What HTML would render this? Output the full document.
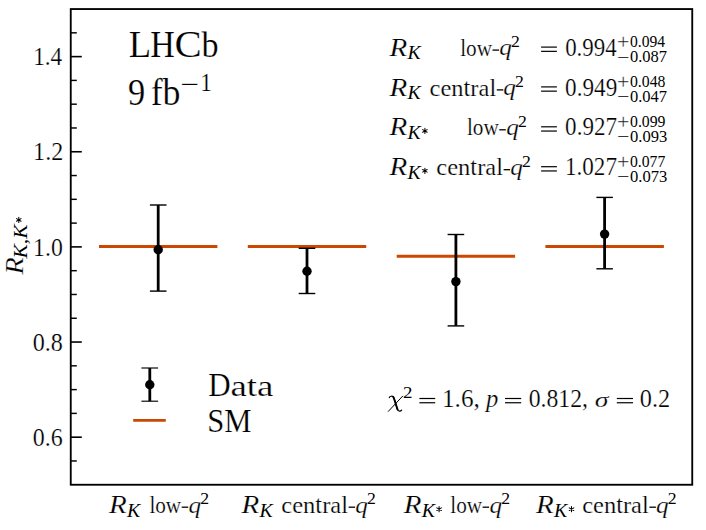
<!DOCTYPE html>
<html><head><meta charset="utf-8"><title>LHCb R_K</title>
<style>html,body{margin:0;padding:0;background:#fff}svg{display:block}</style></head>
<body>
<svg width="706" height="530" viewBox="0 0 706 530">
<rect width="706" height="530" fill="#fff"/>
<line x1="99.0" x2="217.4" y1="246.55" y2="246.55" stroke="#cc4700" stroke-width="2.9"/>
<line x1="247.8" x2="366.2" y1="246.55" y2="246.55" stroke="#cc4700" stroke-width="2.9"/>
<line x1="396.7" x2="515.1" y1="256.3" y2="256.3" stroke="#cc4700" stroke-width="2.9"/>
<line x1="545.4" x2="663.9" y1="246.55" y2="246.55" stroke="#cc4700" stroke-width="2.9"/>
<line x1="158.2" x2="158.2" y1="205.0" y2="291.1" stroke="#000" stroke-width="2.8"/>
<line x1="149.9" x2="166.5" y1="205.0" y2="205.0" stroke="#000" stroke-width="1.4"/>
<line x1="149.9" x2="166.5" y1="291.1" y2="291.1" stroke="#000" stroke-width="1.4"/>
<circle cx="158.2" cy="249.8" r="4.7" fill="#000"/>
<line x1="307.0" x2="307.0" y1="248.3" y2="293.5" stroke="#000" stroke-width="2.8"/>
<line x1="298.7" x2="315.3" y1="248.3" y2="248.3" stroke="#000" stroke-width="1.4"/>
<line x1="298.7" x2="315.3" y1="293.5" y2="293.5" stroke="#000" stroke-width="1.4"/>
<circle cx="307.0" cy="271.2" r="4.7" fill="#000"/>
<line x1="455.9" x2="455.9" y1="234.5" y2="325.9" stroke="#000" stroke-width="2.8"/>
<line x1="447.6" x2="464.2" y1="234.5" y2="234.5" stroke="#000" stroke-width="1.4"/>
<line x1="447.6" x2="464.2" y1="325.9" y2="325.9" stroke="#000" stroke-width="1.4"/>
<circle cx="455.9" cy="281.6" r="4.7" fill="#000"/>
<line x1="604.6" x2="604.6" y1="197.4" y2="268.8" stroke="#000" stroke-width="2.8"/>
<line x1="596.4" x2="612.9" y1="197.4" y2="197.4" stroke="#000" stroke-width="1.4"/>
<line x1="596.4" x2="612.9" y1="268.8" y2="268.8" stroke="#000" stroke-width="1.4"/>
<circle cx="604.6" cy="234.1" r="4.7" fill="#000"/>
<line x1="149.8" x2="149.8" y1="368.0" y2="401.2" stroke="#000" stroke-width="2.8"/>
<line x1="141.4" x2="158.1" y1="368.0" y2="368.0" stroke="#000" stroke-width="1.15"/>
<line x1="141.4" x2="158.1" y1="401.2" y2="401.2" stroke="#000" stroke-width="1.15"/>
<circle cx="149.8" cy="384.8" r="4.7" fill="#000"/>
<line x1="133.2" x2="165.8" y1="420.4" y2="420.4" stroke="#cc4700" stroke-width="2.9"/>
<line x1="70.8" x2="76.8" y1="460.96" y2="460.96" stroke="#000" stroke-width="1.45"/>
<line x1="70.8" x2="81.8" y1="437.18" y2="437.18" stroke="#000" stroke-width="1.6"/>
<line x1="70.8" x2="76.8" y1="413.39" y2="413.39" stroke="#000" stroke-width="1.45"/>
<line x1="70.8" x2="76.8" y1="389.61" y2="389.61" stroke="#000" stroke-width="1.45"/>
<line x1="70.8" x2="76.8" y1="365.82" y2="365.82" stroke="#000" stroke-width="1.45"/>
<line x1="70.8" x2="81.8" y1="342.04" y2="342.04" stroke="#000" stroke-width="1.6"/>
<line x1="70.8" x2="76.8" y1="318.25" y2="318.25" stroke="#000" stroke-width="1.45"/>
<line x1="70.8" x2="76.8" y1="294.47" y2="294.47" stroke="#000" stroke-width="1.45"/>
<line x1="70.8" x2="76.8" y1="270.69" y2="270.69" stroke="#000" stroke-width="1.45"/>
<line x1="70.8" x2="81.8" y1="246.90" y2="246.90" stroke="#000" stroke-width="1.6"/>
<line x1="70.8" x2="76.8" y1="223.11" y2="223.11" stroke="#000" stroke-width="1.45"/>
<line x1="70.8" x2="76.8" y1="199.33" y2="199.33" stroke="#000" stroke-width="1.45"/>
<line x1="70.8" x2="76.8" y1="175.55" y2="175.55" stroke="#000" stroke-width="1.45"/>
<line x1="70.8" x2="81.8" y1="151.76" y2="151.76" stroke="#000" stroke-width="1.6"/>
<line x1="70.8" x2="76.8" y1="127.97" y2="127.97" stroke="#000" stroke-width="1.45"/>
<line x1="70.8" x2="76.8" y1="104.19" y2="104.19" stroke="#000" stroke-width="1.45"/>
<line x1="70.8" x2="76.8" y1="80.40" y2="80.40" stroke="#000" stroke-width="1.45"/>
<line x1="70.8" x2="81.8" y1="56.62" y2="56.62" stroke="#000" stroke-width="1.6"/>
<line x1="70.8" x2="76.8" y1="32.83" y2="32.83" stroke="#000" stroke-width="1.45"/>
<rect x="70.75" y="9.05" width="621.5" height="475.7" fill="none" stroke="#000" stroke-width="1.85"/>
<g font-family="'Liberation Serif', serif" fill="#000" stroke="#fff" stroke-width="0.22">
<text x="32.69" y="446.18" font-size="26" textLength="29.92" lengthAdjust="spacingAndGlyphs">0.6</text>
<text x="32.68" y="351.04" font-size="26" textLength="30.14" lengthAdjust="spacingAndGlyphs">0.8</text>
<text x="33.11" y="255.90" font-size="26" textLength="29.69" lengthAdjust="spacingAndGlyphs">1.0</text>
<text x="33.08" y="160.16" font-size="26" textLength="30.15" lengthAdjust="spacingAndGlyphs">1.2</text>
<text x="33.15" y="65.02" font-size="26" textLength="29.11" lengthAdjust="spacingAndGlyphs">1.4</text>
<g transform="translate(22.7,274.9) rotate(-90)">
<text x="0.45" y="0.00" font-size="25.5" font-style="italic" textLength="17.22" lengthAdjust="spacingAndGlyphs">R</text>
<text x="16.45" y="4.50" font-size="19" font-style="italic" stroke="none" textLength="34.03" lengthAdjust="spacingAndGlyphs">K,K</text>
<path d="M52.40 -3.90L57.60 -3.90M53.70 -6.15L56.30 -1.65M56.30 -6.15L53.70 -1.65" stroke="#000" stroke-width="1.05" stroke-linecap="round" fill="none"/>
</g>
<text x="128.65" y="57.20" font-size="38.7" textLength="22.35" lengthAdjust="spacingAndGlyphs">L</text>
<text x="150.22" y="57.20" font-size="38.7" textLength="24.58" lengthAdjust="spacingAndGlyphs">H</text>
<text x="174.53" y="57.20" font-size="38.7" textLength="27.23" lengthAdjust="spacingAndGlyphs">C</text>
<text x="201.50" y="57.20" font-size="36.2" textLength="17.10" lengthAdjust="spacingAndGlyphs">b</text>
<text x="127.89" y="105.00" font-size="37" textLength="17.22" lengthAdjust="spacingAndGlyphs">9</text>
<text x="150.70" y="104.60" font-size="37.5" textLength="29.87" lengthAdjust="spacingAndGlyphs">fb</text>
<text x="180.53" y="92.80" font-size="26" textLength="18.91" lengthAdjust="spacingAndGlyphs">−</text>
<text x="200.15" y="91.00" font-size="25.5" textLength="11.65" lengthAdjust="spacingAndGlyphs">1</text>
<text x="208.20" y="395.60" font-size="33" textLength="22.44" lengthAdjust="spacingAndGlyphs">D</text>
<text x="230.40" y="395.60" font-size="30" textLength="43.00" lengthAdjust="spacingAndGlyphs">ata</text>
<text x="207.35" y="432.00" font-size="34" textLength="44.24" lengthAdjust="spacingAndGlyphs">SM</text>
<text x="389.46" y="55.70" font-size="26" font-style="italic" textLength="17.73" lengthAdjust="spacingAndGlyphs">R</text>
<text x="407.53" y="59.25" font-size="17.8" font-style="italic" stroke="none" textLength="13.22" lengthAdjust="spacingAndGlyphs">K</text>
<text x="460.18" y="55.70" font-size="26" textLength="5.89" lengthAdjust="spacingAndGlyphs">l</text>
<text x="466.07" y="55.70" font-size="24" textLength="25.92" lengthAdjust="spacingAndGlyphs">ow</text>
<line x1="492.50" x2="499.00" y1="50.10" y2="50.10" stroke="#000" stroke-width="1.3"/>
<text x="499.36" y="54.90" font-size="24" font-style="italic" textLength="12.63" lengthAdjust="spacingAndGlyphs">q</text>
<text x="511.12" y="46.90" font-size="16.5" stroke="none" textLength="8.86" lengthAdjust="spacingAndGlyphs">2</text>
<line x1="541.10" x2="556.90" y1="47.10" y2="47.10" stroke="#000" stroke-width="1.2"/>
<line x1="541.10" x2="556.90" y1="51.35" y2="51.35" stroke="#000" stroke-width="1.2"/>
<text x="565.13" y="55.70" font-size="25" textLength="51.53" lengthAdjust="spacingAndGlyphs">0.994</text>
<text x="617.11" y="48.90" font-size="21" textLength="12.36" lengthAdjust="spacingAndGlyphs">+</text>
<text x="630.01" y="46.90" font-size="17.3" stroke="none" textLength="35.04" lengthAdjust="spacingAndGlyphs">0.094</text>
<text x="617.11" y="62.60" font-size="17" stroke="none" textLength="12.36" lengthAdjust="spacingAndGlyphs">−</text>
<text x="629.97" y="62.10" font-size="17.3" stroke="none" textLength="37.10" lengthAdjust="spacingAndGlyphs">0.087</text>
<text x="389.46" y="95.50" font-size="26" font-style="italic" textLength="17.73" lengthAdjust="spacingAndGlyphs">R</text>
<text x="407.53" y="99.05" font-size="17.8" font-style="italic" stroke="none" textLength="13.22" lengthAdjust="spacingAndGlyphs">K</text>
<text x="429.57" y="95.50" font-size="24" textLength="33.99" lengthAdjust="spacingAndGlyphs">cen</text>
<text x="463.55" y="95.50" font-size="25" textLength="6.80" lengthAdjust="spacingAndGlyphs">t</text>
<text x="470.36" y="95.50" font-size="24" textLength="19.03" lengthAdjust="spacingAndGlyphs">ra</text>
<text x="489.39" y="95.50" font-size="26" textLength="6.80" lengthAdjust="spacingAndGlyphs">l</text>
<line x1="496.80" x2="503.30" y1="89.90" y2="89.90" stroke="#000" stroke-width="1.3"/>
<text x="503.36" y="94.70" font-size="24" font-style="italic" textLength="12.63" lengthAdjust="spacingAndGlyphs">q</text>
<text x="515.12" y="86.70" font-size="16.5" stroke="none" textLength="8.86" lengthAdjust="spacingAndGlyphs">2</text>
<line x1="541.10" x2="556.90" y1="86.90" y2="86.90" stroke="#000" stroke-width="1.2"/>
<line x1="541.10" x2="556.90" y1="91.15" y2="91.15" stroke="#000" stroke-width="1.2"/>
<text x="565.12" y="95.50" font-size="25" textLength="52.13" lengthAdjust="spacingAndGlyphs">0.949</text>
<text x="617.11" y="88.70" font-size="21" textLength="12.36" lengthAdjust="spacingAndGlyphs">+</text>
<text x="630.00" y="86.70" font-size="17.3" stroke="none" textLength="35.40" lengthAdjust="spacingAndGlyphs">0.048</text>
<text x="617.11" y="102.40" font-size="17" stroke="none" textLength="12.36" lengthAdjust="spacingAndGlyphs">−</text>
<text x="629.97" y="101.90" font-size="17.3" stroke="none" textLength="37.10" lengthAdjust="spacingAndGlyphs">0.047</text>
<text x="389.46" y="135.40" font-size="26" font-style="italic" textLength="17.73" lengthAdjust="spacingAndGlyphs">R</text>
<text x="407.53" y="138.95" font-size="17.8" font-style="italic" stroke="none" textLength="13.22" lengthAdjust="spacingAndGlyphs">K</text>
<path d="M424.90 128.30L424.90 133.50M422.65 129.60L427.15 132.20M427.15 129.60L422.65 132.20" stroke="#000" stroke-width="1.05" stroke-linecap="round" fill="none"/>
<text x="466.98" y="135.40" font-size="26" textLength="5.89" lengthAdjust="spacingAndGlyphs">l</text>
<text x="472.87" y="135.40" font-size="24" textLength="25.92" lengthAdjust="spacingAndGlyphs">ow</text>
<line x1="499.30" x2="505.80" y1="129.80" y2="129.80" stroke="#000" stroke-width="1.3"/>
<text x="506.16" y="134.60" font-size="24" font-style="italic" textLength="12.63" lengthAdjust="spacingAndGlyphs">q</text>
<text x="517.92" y="126.60" font-size="16.5" stroke="none" textLength="8.86" lengthAdjust="spacingAndGlyphs">2</text>
<line x1="541.10" x2="556.90" y1="126.80" y2="126.80" stroke="#000" stroke-width="1.2"/>
<line x1="541.10" x2="556.90" y1="131.05" y2="131.05" stroke="#000" stroke-width="1.2"/>
<text x="565.12" y="135.40" font-size="25" textLength="51.84" lengthAdjust="spacingAndGlyphs">0.927</text>
<text x="617.11" y="128.60" font-size="21" textLength="12.36" lengthAdjust="spacingAndGlyphs">+</text>
<text x="630.00" y="126.60" font-size="17.3" stroke="none" textLength="35.45" lengthAdjust="spacingAndGlyphs">0.099</text>
<text x="617.11" y="142.30" font-size="17" stroke="none" textLength="12.36" lengthAdjust="spacingAndGlyphs">−</text>
<text x="629.97" y="141.80" font-size="17.3" stroke="none" textLength="37.28" lengthAdjust="spacingAndGlyphs">0.093</text>
<text x="389.46" y="175.30" font-size="26" font-style="italic" textLength="17.73" lengthAdjust="spacingAndGlyphs">R</text>
<text x="407.53" y="178.85" font-size="17.8" font-style="italic" stroke="none" textLength="13.22" lengthAdjust="spacingAndGlyphs">K</text>
<path d="M424.90 168.20L424.90 173.40M422.65 169.50L427.15 172.10M427.15 169.50L422.65 172.10" stroke="#000" stroke-width="1.05" stroke-linecap="round" fill="none"/>
<text x="436.37" y="175.30" font-size="24" textLength="33.99" lengthAdjust="spacingAndGlyphs">cen</text>
<text x="470.35" y="175.30" font-size="25" textLength="6.80" lengthAdjust="spacingAndGlyphs">t</text>
<text x="477.16" y="175.30" font-size="24" textLength="19.03" lengthAdjust="spacingAndGlyphs">ra</text>
<text x="496.19" y="175.30" font-size="26" textLength="6.80" lengthAdjust="spacingAndGlyphs">l</text>
<line x1="503.60" x2="510.10" y1="169.70" y2="169.70" stroke="#000" stroke-width="1.3"/>
<text x="510.16" y="174.50" font-size="24" font-style="italic" textLength="12.63" lengthAdjust="spacingAndGlyphs">q</text>
<text x="521.92" y="166.50" font-size="16.5" stroke="none" textLength="8.86" lengthAdjust="spacingAndGlyphs">2</text>
<line x1="541.10" x2="556.90" y1="166.70" y2="166.70" stroke="#000" stroke-width="1.2"/>
<line x1="541.10" x2="556.90" y1="170.95" y2="170.95" stroke="#000" stroke-width="1.2"/>
<text x="564.97" y="175.30" font-size="25" textLength="52.00" lengthAdjust="spacingAndGlyphs">1.027</text>
<text x="617.11" y="168.50" font-size="21" textLength="12.36" lengthAdjust="spacingAndGlyphs">+</text>
<text x="630.00" y="166.50" font-size="17.3" stroke="none" textLength="35.25" lengthAdjust="spacingAndGlyphs">0.077</text>
<text x="617.11" y="182.20" font-size="17" stroke="none" textLength="12.36" lengthAdjust="spacingAndGlyphs">−</text>
<text x="629.97" y="181.70" font-size="17.3" stroke="none" textLength="37.28" lengthAdjust="spacingAndGlyphs">0.073</text>
<g fill="none" stroke="#000" stroke-linecap="round"><path d="M389.3 397.6C389.9 396.2 392.3 395.5 393.5 397.2C394.6 399 396.4 406.5 397.5 409.4C398.3 411.4 400.6 411.6 401.6 410.1" stroke-width="1.2"/><path d="M393.3 397C394.5 399 396.4 406.5 397.6 409.6" stroke-width="1.9"/><path d="M402.6 396.2L388.3 411.4" stroke-width="1"/></g>
<text x="402.97" y="398.00" font-size="17.2" stroke="none" textLength="9.48" lengthAdjust="spacingAndGlyphs">2</text>
<line x1="419.40" x2="435.20" y1="398.50" y2="398.50" stroke="#000" stroke-width="1.2"/>
<line x1="419.40" x2="435.20" y1="402.75" y2="402.75" stroke="#000" stroke-width="1.2"/>
<text x="441.99" y="407.10" font-size="25" textLength="37.80" lengthAdjust="spacingAndGlyphs">1.6,</text>
<text x="486.04" y="406.70" font-size="25" font-style="italic" textLength="12.30" lengthAdjust="spacingAndGlyphs">p</text>
<line x1="505.00" x2="521.20" y1="398.50" y2="398.50" stroke="#000" stroke-width="1.2"/>
<line x1="505.00" x2="521.20" y1="402.75" y2="402.75" stroke="#000" stroke-width="1.2"/>
<text x="528.70" y="407.10" font-size="25" textLength="59.30" lengthAdjust="spacingAndGlyphs">0.812,</text>
<text x="594.77" y="407.10" font-size="22" font-style="italic" textLength="13.75" lengthAdjust="spacingAndGlyphs">σ</text>
<line x1="616.80" x2="633.00" y1="398.50" y2="398.50" stroke="#000" stroke-width="1.2"/>
<line x1="616.80" x2="633.00" y1="402.75" y2="402.75" stroke="#000" stroke-width="1.2"/>
<text x="639.77" y="407.10" font-size="25" textLength="30.37" lengthAdjust="spacingAndGlyphs">0.2</text>
<text x="109.06" y="512.80" font-size="26" font-style="italic" textLength="17.73" lengthAdjust="spacingAndGlyphs">R</text>
<text x="127.13" y="517.20" font-size="17.8" font-style="italic" stroke="none" textLength="13.22" lengthAdjust="spacingAndGlyphs">K</text>
<text x="149.38" y="512.80" font-size="26" textLength="5.89" lengthAdjust="spacingAndGlyphs">l</text>
<text x="155.27" y="512.80" font-size="24" textLength="25.92" lengthAdjust="spacingAndGlyphs">ow</text>
<line x1="181.70" x2="188.20" y1="507.20" y2="507.20" stroke="#000" stroke-width="1.3"/>
<text x="188.56" y="512.60" font-size="24" font-style="italic" textLength="12.63" lengthAdjust="spacingAndGlyphs">q</text>
<text x="200.32" y="503.80" font-size="16.5" stroke="none" textLength="8.86" lengthAdjust="spacingAndGlyphs">2</text>
<text x="241.56" y="512.80" font-size="26" font-style="italic" textLength="17.73" lengthAdjust="spacingAndGlyphs">R</text>
<text x="259.63" y="517.20" font-size="17.8" font-style="italic" stroke="none" textLength="13.22" lengthAdjust="spacingAndGlyphs">K</text>
<text x="281.37" y="512.80" font-size="24" textLength="33.99" lengthAdjust="spacingAndGlyphs">cen</text>
<text x="315.35" y="512.80" font-size="25" textLength="6.80" lengthAdjust="spacingAndGlyphs">t</text>
<text x="322.16" y="512.80" font-size="24" textLength="19.03" lengthAdjust="spacingAndGlyphs">ra</text>
<text x="341.19" y="512.80" font-size="26" textLength="6.80" lengthAdjust="spacingAndGlyphs">l</text>
<line x1="348.60" x2="355.10" y1="507.20" y2="507.20" stroke="#000" stroke-width="1.3"/>
<text x="355.16" y="512.60" font-size="24" font-style="italic" textLength="12.63" lengthAdjust="spacingAndGlyphs">q</text>
<text x="366.92" y="503.80" font-size="16.5" stroke="none" textLength="8.86" lengthAdjust="spacingAndGlyphs">2</text>
<text x="403.66" y="512.80" font-size="26" font-style="italic" textLength="17.73" lengthAdjust="spacingAndGlyphs">R</text>
<text x="421.73" y="517.20" font-size="17.8" font-style="italic" stroke="none" textLength="13.22" lengthAdjust="spacingAndGlyphs">K</text>
<path d="M439.10 506.55L439.10 511.75M436.85 507.85L441.35 510.45M441.35 507.85L436.85 510.45" stroke="#000" stroke-width="1.05" stroke-linecap="round" fill="none"/>
<text x="450.28" y="512.80" font-size="26" textLength="5.89" lengthAdjust="spacingAndGlyphs">l</text>
<text x="456.17" y="512.80" font-size="24" textLength="25.92" lengthAdjust="spacingAndGlyphs">ow</text>
<line x1="482.60" x2="489.10" y1="507.20" y2="507.20" stroke="#000" stroke-width="1.3"/>
<text x="489.46" y="512.60" font-size="24" font-style="italic" textLength="12.63" lengthAdjust="spacingAndGlyphs">q</text>
<text x="501.22" y="503.80" font-size="16.5" stroke="none" textLength="8.86" lengthAdjust="spacingAndGlyphs">2</text>
<text x="536.06" y="512.80" font-size="26" font-style="italic" textLength="17.73" lengthAdjust="spacingAndGlyphs">R</text>
<text x="554.13" y="517.20" font-size="17.8" font-style="italic" stroke="none" textLength="13.22" lengthAdjust="spacingAndGlyphs">K</text>
<path d="M571.50 506.55L571.50 511.75M569.25 507.85L573.75 510.45M573.75 507.85L569.25 510.45" stroke="#000" stroke-width="1.05" stroke-linecap="round" fill="none"/>
<text x="582.17" y="512.80" font-size="24" textLength="33.99" lengthAdjust="spacingAndGlyphs">cen</text>
<text x="616.15" y="512.80" font-size="25" textLength="6.80" lengthAdjust="spacingAndGlyphs">t</text>
<text x="622.96" y="512.80" font-size="24" textLength="19.03" lengthAdjust="spacingAndGlyphs">ra</text>
<text x="641.99" y="512.80" font-size="26" textLength="6.80" lengthAdjust="spacingAndGlyphs">l</text>
<line x1="649.40" x2="655.90" y1="507.20" y2="507.20" stroke="#000" stroke-width="1.3"/>
<text x="655.96" y="512.60" font-size="24" font-style="italic" textLength="12.63" lengthAdjust="spacingAndGlyphs">q</text>
<text x="667.72" y="503.80" font-size="16.5" stroke="none" textLength="8.86" lengthAdjust="spacingAndGlyphs">2</text>
</g>
</svg>
</body></html>
